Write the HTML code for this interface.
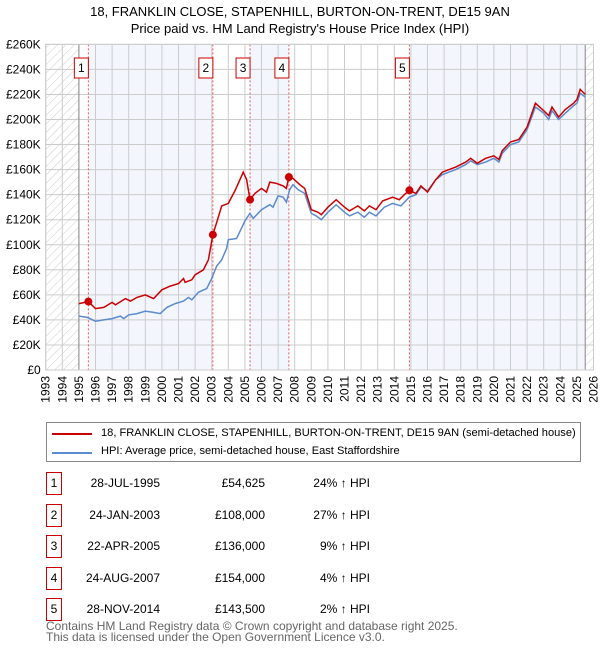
<!DOCTYPE html>
<html><head><meta charset="utf-8"><style>
body{margin:0;background:#fff;font-family:"Liberation Sans","DejaVu Sans",sans-serif;}
#wrap{position:relative;width:600px;height:650px;overflow:hidden}
.t{position:absolute;font-size:12px;color:#000;white-space:nowrap}
.box{position:absolute;border:1px solid #c00;width:14px;height:21px;text-align:center;line-height:21px;font-size:12px;left:46px}
</style></head><body><div id="wrap">
<svg id="chart" width="600" height="420" style="position:absolute;left:0;top:0">
<defs><pattern id="hatch" width="6" height="6" patternUnits="userSpaceOnUse" patternTransform="rotate(45)"><line x1="0" y1="0" x2="0" y2="6" stroke="#ccc" stroke-width="1"/></pattern></defs>
<text x="300" y="16" text-anchor="middle" font-size="13">18, FRANKLIN CLOSE, STAPENHILL, BURTON-ON-TRENT, DE15 9AN</text>
<text x="300" y="33" text-anchor="middle" font-size="13">Price paid vs. HM Land Registry's House Price Index (HPI)</text>
<g id="g"></g>
</svg>
<div style="position:absolute;left:46px;top:422px;width:533px;height:38px;border:1px solid #888">
<div style="position:absolute;left:5px;top:10px;width:40px;height:2px;background:#c00"></div>
<div class="t" style="left:54px;top:4px;font-size:11.1px">18, FRANKLIN CLOSE, STAPENHILL, BURTON-ON-TRENT, DE15 9AN (semi-detached house)</div>
<div style="position:absolute;left:5px;top:29px;width:40px;height:2px;background:#5b8bd0"></div>
<div class="t" style="left:54px;top:22px;font-size:11.1px">HPI: Average price, semi-detached house, East Staffordshire</div>
</div>
<div id="tbl"></div>
<div class="t" style="left:46px;top:621px;color:#666;font-size:12px;line-height:11px">Contains HM Land Registry data © Crown copyright and database right 2025.<br>This data is licensed under the Open Government Licence v3.0.</div>
</div>
<script>
const yearTicks=[1993,1994,1995,1996,1997,1998,1999,2000,2001,2002,2003,2004,2005,2006,2007,2008,2009,2010,2011,2012,2013,2014,2015,2016,2017,2018,2019,2020,2021,2022,2023,2024,2025,2026];
const priceTicks=[0,20,40,60,80,100,120,140,160,180,200,220,240,260];
const saleYears=[1995.57,2003.07,2005.31,2007.65,2014.91];
const salePrices=[54.625,108,136,154,143.5];
const saleLabels=["1","2","3","4","5"];
const saleDates=["28-JUL-1995","24-JAN-2003","22-APR-2005","24-AUG-2007","28-NOV-2014"];
const salePriceText=["£54,625","£108,000","£136,000","£154,000","£143,500"];
const saleHpiText=["24% ↑ HPI","27% ↑ HPI","9% ↑ HPI","4% ↑ HPI","2% ↑ HPI"];
const hpiYears=[1995,1995.5,1996,1996.5,1997,1997.5,1997.7,1998,1998.5,1999,1999.5,1999.9,2000.3,2000.8,2001.3,2001.6,2001.8,2002.2,2002.7,2003,2003.3,2003.6,2003.9,2004,2004.5,2005,2005.3,2005.5,2006,2006.5,2006.7,2007,2007.3,2007.5,2007.7,2007.9,2008.2,2008.6,2009,2009.3,2009.6,2010,2010.5,2011,2011.3,2011.8,2012.2,2012.5,2012.9,2013.4,2013.9,2014.4,2014.9,2015.3,2015.6,2016,2016.5,2016.9,2017.3,2017.7,2018.3,2018.6,2019,2019.5,2020,2020.3,2020.5,2021,2021.5,2022,2022.5,2023,2023.3,2023.5,2023.9,2024.3,2024.8,2025,2025.2,2025.5];
const hpiValues=[43,42,39,40,41,43,41,44,45,47,46,45,50,53,55,58,56,62,65,73,83,88,97,104,105,119,125,121,128,132,130,139,138,134,144,148,144,141,125,123,120,126,132,126,123,126,122,126,123,130,133,131,138,140,146,143,152,156,158,160,164,167,164,166,169,166,173,180,182,192,210,205,200,207,200,205,211,213,221,218];
const propYears=[1995,1995.57,1996,1996.5,1997,1997.2,1997.8,1998.1,1998.5,1999,1999.5,2000,2000.5,2001,2001.3,2001.4,2001.8,2002,2002.5,2002.8,2003.07,2003.4,2003.6,2004,2004.4,2004.8,2004.9,2005.1,2005.31,2005.6,2006,2006.3,2006.5,2006.9,2007.3,2007.5,2007.65,2007.9,2008.3,2008.6,2009,2009.4,2009.6,2010,2010.5,2011,2011.3,2011.8,2012.2,2012.5,2012.9,2013.3,2013.9,2014.3,2014.6,2014.91,2015.3,2015.6,2016,2016.5,2016.9,2017.3,2017.7,2018.3,2018.6,2019,2019.5,2020,2020.3,2020.5,2021,2021.5,2022,2022.5,2023,2023.3,2023.5,2023.9,2024.3,2024.8,2025,2025.2,2025.5];
const propValues=[53,54.6,49,50,54,52,57,55,58,60,57,64,67,69,73,70,72,76,80,88,108,122,131,133,143,155,158,152,136,141,145,142,150,149,147,145,154,153,148,145,128,126,124,130,136,130,127,131,127,131,128,135,138,136,140,143.5,141,147,142,152,158,160,162,166,169,165,169,171,168,175,182,184,194,213,207,203,210,202,208,213,216,224,220];
const X0=45.7,PX=16.6,Y0=370,PY=25.05/20;
const x=v=>X0+(v-1993)*PX, y=v=>Y0-v*PY;
const g=document.getElementById('g');const NS='http://www.w3.org/2000/svg';
function mk(t,a,p){const e=document.createElementNS(NS,t);for(const k in a)e.setAttribute(k,a[k]);(p||g).appendChild(e);return e;}
const TOPY=y(260),L=x(1993),R=x(2026);
let e;
e=mk('rect',{x:x(saleYears[0]),y:TOPY,width:x(saleYears[1])-x(saleYears[0]),height:Y0-TOPY,fill:'#f3f6fd'});


e=mk('rect',{x:x(saleYears[2]),y:TOPY,width:x(saleYears[3])-x(saleYears[2]),height:Y0-TOPY,fill:'#f3f6fd'});


e=mk('rect',{x:x(saleYears[4]),y:TOPY,width:x(2025.5)-x(saleYears[4]),height:Y0-TOPY,fill:'#f3f6fd'});


e=mk('rect',{x:L,y:TOPY,width:x(1995)-L,height:Y0-TOPY,fill:'url(#hatch)'});


e=mk('rect',{x:x(2025.5),y:TOPY,width:R-x(2025.5),height:Y0-TOPY,fill:'url(#hatch)'});


yearTicks.forEach(t=>{e=mk('line',{x1:x(t),x2:x(t),y1:TOPY,y2:Y0,stroke:'#ccc'});


e=mk('text',{x:0,y:0,transform:`translate(${x(t)+4},${Y0+6}) rotate(-90)`,'text-anchor':'end','font-size':12});e.textContent=t;

});
priceTicks.forEach(t=>{e=mk('line',{x1:L,x2:R,y1:y(t),y2:y(t),stroke:'#ccc'});


e=mk('text',{x:L-5,y:y(t)+4,'text-anchor':'end','font-size':12});e.textContent=t?`£${t}K`:'£0';

});
e=mk('line',{x1:x(1995),x2:x(1995),y1:TOPY,y2:Y0,stroke:'#888'});


e=mk('line',{x1:x(2025.5),x2:x(2025.5),y1:TOPY,y2:Y0,stroke:'#888'});


saleYears.forEach((s,i)=>{e=mk('line',{x1:x(s),x2:x(s),y1:TOPY,y2:Y0,stroke:'#e55','stroke-dasharray':'2,2'});


e=mk('rect',{x:x(s)-14,y:58,width:14,height:20,fill:'#fff',stroke:'#c00'});


e=mk('text',{x:x(s)-7,y:72,'text-anchor':'middle','font-size':12});e.textContent=saleLabels[i];

});
const pts=(xs,vs)=>xs.map((v,i)=>x(v).toFixed(1)+','+y(vs[i]).toFixed(1)).join(' ');
e=mk('polyline',{points:pts(hpiYears,hpiValues),fill:'none',stroke:'#5b8bd0','stroke-width':1.5});


e=mk('polyline',{points:pts(propYears,propValues),fill:'none',stroke:'#c00','stroke-width':1.5});


saleYears.forEach((s,i)=>{e=mk('circle',{cx:x(s),cy:y(salePrices[i]),r:4,fill:'#c00'});

});
e=mk('rect',{x:L,y:TOPY,width:R-L,height:Y0-TOPY,fill:'none',stroke:'#ccc'});


const tbl=document.getElementById('tbl');
saleLabels.forEach((l,i)=>{const t0=472+i*31.5;
let d=document.createElement('div');d.className='box';d.style.top=t0+'px';d.textContent=l;


tbl.appendChild(d);
[[saleDates[i],160],[salePriceText[i],265],[saleHpiText[i],370]].forEach(([txt,r])=>{
d=document.createElement('div');d.className='t';d.style.top=(t0+4)+'px';d.style.right=(600-r)+'px';d.textContent=txt;


tbl.appendChild(d);});});
</script></body></html>
